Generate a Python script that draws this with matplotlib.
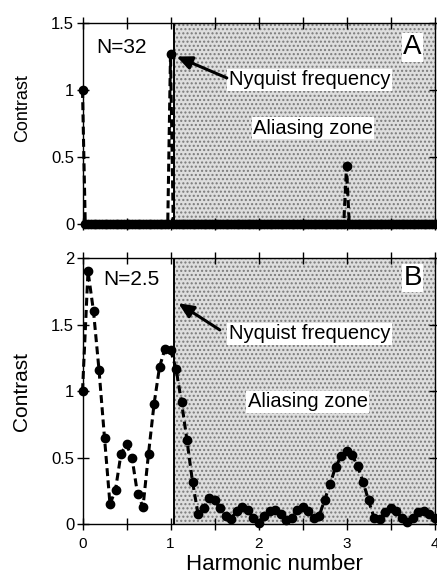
import numpy as np
import matplotlib
matplotlib.use("Agg")
import matplotlib.pyplot as plt

plt.rcParams['font.family'] = ['Liberation Sans', 'DejaVu Sans']
plt.rcParams['hatch.linewidth'] = 1.0

# ---------------- data ----------------
# Panel A (N=32): harmonic grid with step 1/32, all zero except three peaks
step_a = 1 / 32
harm_a = np.arange(0, 4 + step_a / 2, step_a)
peak_pos_a = [0.0, 1.0, 3.0]
peak_val_a = [1.0, 1.27, 0.43]
contrast_a = np.zeros_like(harm_a)
for p, v in zip(peak_pos_a, peak_val_a):
    contrast_a[np.argmin(np.abs(harm_a - p))] = v

# Panel B (N=2.5): harmonic grid with step 1/16
step_b = 1 / 16
harm_b = np.arange(0, 4 + step_b / 2, step_b)
contrast_b = [
    1.00, 1.90, 1.60, 1.16, 0.65, 0.15, 0.26, 0.53,
    0.60, 0.50, 0.23, 0.13, 0.53, 0.90, 1.18, 1.32,
    1.31, 1.17, 0.92, 0.63, 0.32, 0.08, 0.12, 0.20,
    0.18, 0.12, 0.06, 0.04, 0.10, 0.13, 0.11, 0.05,
    0.01, 0.06, 0.10, 0.11, 0.08, 0.03, 0.05, 0.11,
    0.13, 0.10, 0.05, 0.06, 0.18, 0.30, 0.43, 0.51,
    0.55, 0.52, 0.44, 0.32, 0.18, 0.05, 0.04, 0.09,
    0.12, 0.10, 0.05, 0.02, 0.05, 0.09, 0.10, 0.08,
    0.05,
]

nyquist = 1.04
xticks = [0, 0.5, 1, 1.5, 2, 2.5, 3, 3.5, 4]
xticklabels = ["0", "", "1", "", "2", "", "3", "", "4"]
yticks_a = [0, 0.5, 1, 1.5]
yticklabels_a = ["0", "0.5", "1", "1.5"]
yticks_b = [0, 0.5, 1, 1.5, 2]
yticklabels_b = ["0", "0.5", "1", "1.5", "2"]

# ---------------- figure ----------------
W, H = 437, 574
fig = plt.figure(figsize=(W / 100, H / 100), dpi=100)

def px_axes(left, right, top, bottom):
    return fig.add_axes([left / W, 1 - bottom / H, (right - left) / W, (bottom - top) / H])

axA = px_axes(82.5, 434.5, 23, 224)
axB = px_axes(82.5, 434.5, 258, 524.3)

box = dict(facecolor="white", edgecolor="none", pad=1.0)

def style(ax, ymax, yticks, ylabels, ylab_size):
    ax.set_xlim(0, 4)
    ax.set_ylim(0, ymax)
    ax.axvspan(nyquist, 4, facecolor="#dedede", edgecolor="#7a7a7a",
               hatch="....", linewidth=0, zorder=0)
    ax.axvline(nyquist, color="black", lw=1.4, zorder=2)
    ax.set_xticks(xticks)
    ax.set_yticks(yticks)
    ax.set_yticklabels(ylabels)
    ax.tick_params(direction="inout", length=8, width=1.0, top=True, right=True,
                   labelsize=12, pad=2)
    ax.tick_params(axis="x", labelsize=11, pad=5)
    for s in ax.spines.values():
        s.set_linewidth(1.0)
    ax.set_ylabel("Contrast", fontsize=ylab_size)

line_kw = dict(color="black", ls=(0, (2.6, 1.4)), lw=2.2, marker="o",
               markersize=6, clip_on=False, zorder=3)
arrow_kw = dict(arrowstyle="-|>,head_length=0.9,head_width=0.4",
                color="black", lw=2.2, shrinkA=0, shrinkB=0)

# Panel A
style(axA, 1.5, yticks_a, yticklabels_a, 13)
axA.plot(harm_a, contrast_a, **line_kw)
axA.set_xticklabels([""] * len(xticks))
axA.yaxis.set_label_coords(-0.145, 0.577)
axA.text(0.446, 1.32, "N=32", fontsize=15, ha="center", va="center")
axA.text(3.75, 1.32, "A", fontsize=20, ha="center", va="center", bbox=box)
axA.text(2.58, 1.076, "Nyquist frequency", fontsize=14.5, ha="center", va="center", bbox=box)
axA.text(2.62, 0.715, "Aliasing zone", fontsize=14.5, ha="center", va="center", bbox=box)
axA.annotate("", xy=(1.07, 1.25), xytext=(1.64, 1.09), arrowprops=arrow_kw)

# Panel B
style(axB, 2.0, yticks_b, yticklabels_b, 15)
axB.plot(harm_b, contrast_b, **line_kw)
axB.set_xticklabels(xticklabels)
axB.yaxis.set_label_coords(-0.145, 0.5)
axB.set_xlabel("Harmonic number", fontsize=16)
axB.xaxis.set_label_coords(0.545, -0.112)
axB.text(0.55, 1.837, "N=2.5", fontsize=15, ha="center", va="center")
axB.text(3.75, 1.85, "B", fontsize=20, ha="center", va="center", bbox=box)
axB.text(2.58, 1.43, "Nyquist frequency", fontsize=14.5, ha="center", va="center", bbox=box)
axB.text(2.56, 0.92, "Aliasing zone", fontsize=14.5, ha="center", va="center", bbox=box)
axB.annotate("", xy=(1.09, 1.66), xytext=(1.56, 1.46), arrowprops=arrow_kw)

fig.savefig("out.png", dpi=100)
